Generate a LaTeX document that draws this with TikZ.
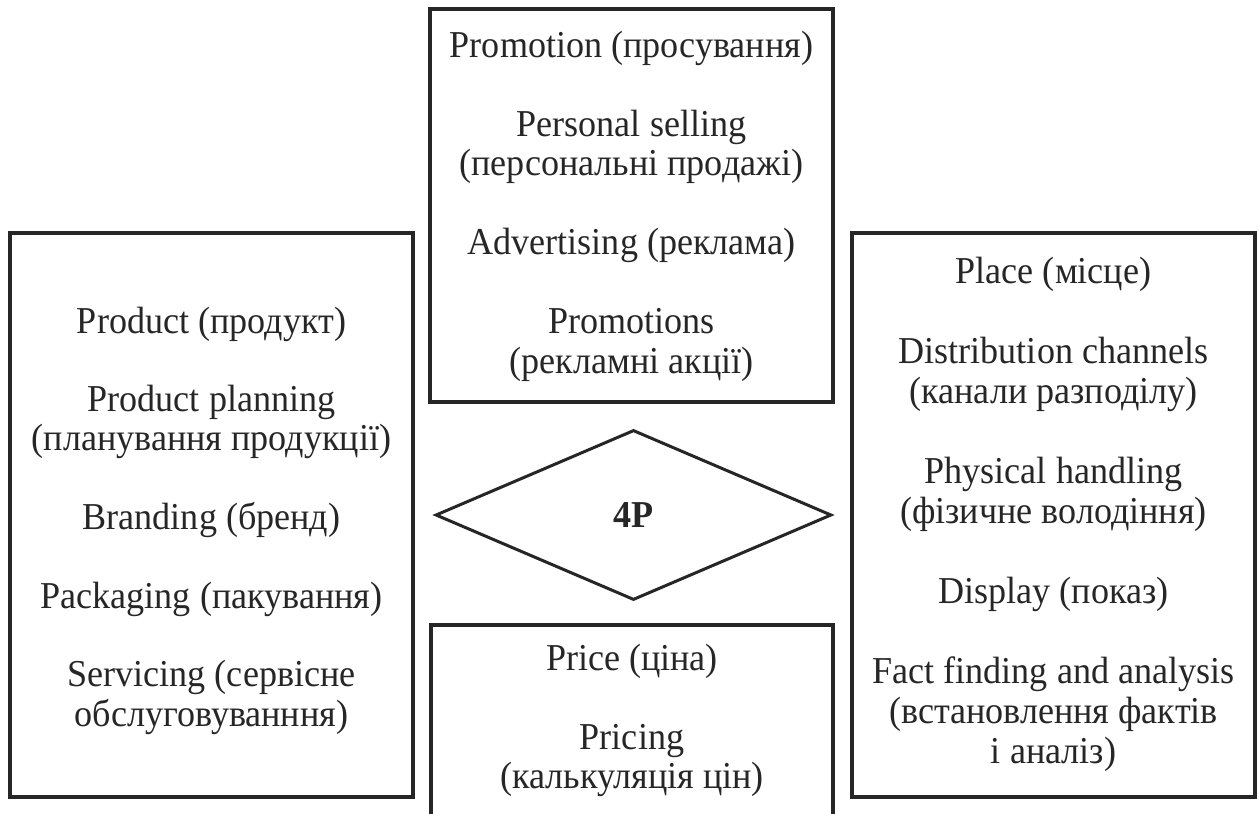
\documentclass[tikz,border=0pt]{standalone}
\usepackage{fontspec}
\setmainfont{Liberation Serif}[FakeStretch=0.95]
\usetikzlibrary{shapes.geometric}
\tikzset{
  box/.style={draw=black!85, line width=1.6pt, rectangle, inner sep=0pt},
  rhomb/.style={draw=black!85, line width=1.5pt, diamond, inner sep=0pt, font=\fontsize{19}{21}\selectfont\bfseries, text=black!85},
  txt/.style={font=\fontsize{19}{21}\selectfont, anchor=base, inner sep=0pt, text=black!85},
}
\begin{document}
\begin{tikzpicture}[x=0.5pt,y=-0.5pt]
\useasboundingbox (0,0) rectangle (1259,814);
\clip (0,0) rectangle (1259,814);
% boxes
\node[box, minimum width=201.5pt, minimum height=196.5pt] (topbox) at (631.5,205.5) {};
\node[box, minimum width=201.5pt, minimum height=282pt] (leftbox) at (211.5,515) {};
\node[box, minimum width=201.5pt, minimum height=282pt] (rightbox) at (1053.5,515) {};
\node[box, minimum width=201pt, minimum height=110pt] (bottombox) at (632,735) {};
\node[rhomb, minimum width=198pt, minimum height=85pt] (fourp) at (633.5,515) {4P};
% top box texts
\node[txt] (t1) at (631.5,57) {Promotion (просування)};
\node[txt] (t2) at (631.5,136) {Personal selling};
\node[txt] (t3) at (631.5,175.5) {(персональні продажі)};
\node[txt] (t4) at (631.5,254.5) {Advertising (реклама)};
\node[txt] (t5) at (631.5,333.5) {Promotions};
\node[txt] (t6) at (631.5,373) {(рекламні акції)};
% left box texts
\node[txt] (l1) at (211.5,333) {Product (продукт)};
\node[txt] (l2) at (211.5,411.6) {Product planning};
\node[txt] (l3) at (211.5,450.9) {(планування продукції)};
\node[txt] (l4) at (211.5,529.5) {Branding (бренд)};
\node[txt] (l5) at (211.5,608.1) {Packaging (пакування)};
\node[txt] (l6) at (211.5,686.7) {Servicing (сервісне};
\node[txt] (l7) at (211.5,726) {обслуговуванння)};
% right box texts
\node[txt] (r1) at (1053.5,283) {Place (місце)};
\node[txt] (r2) at (1053.5,363) {Distribution channels};
\node[txt] (r3) at (1053.5,403) {(канали разподілу)};
\node[txt] (r4) at (1053.5,483) {Physical handling};
\node[txt] (r5) at (1053.5,523) {(фізичне володіння)};
\node[txt] (r6) at (1053.5,603) {Display (показ)};
\node[txt] (r7) at (1053.5,683) {Fact finding and analysis};
\node[txt] (r8) at (1053.5,723) {(встановлення фактів};
\node[txt] (r9) at (1053.5,763) {і аналіз)};
% bottom box texts
\node[txt] (b1) at (632,670) {Price (ціна)};
\node[txt] (b2) at (632,749) {Pricing};
\node[txt] (b3) at (632,788) {(калькуляція цін)};
\end{tikzpicture}
\end{document}
